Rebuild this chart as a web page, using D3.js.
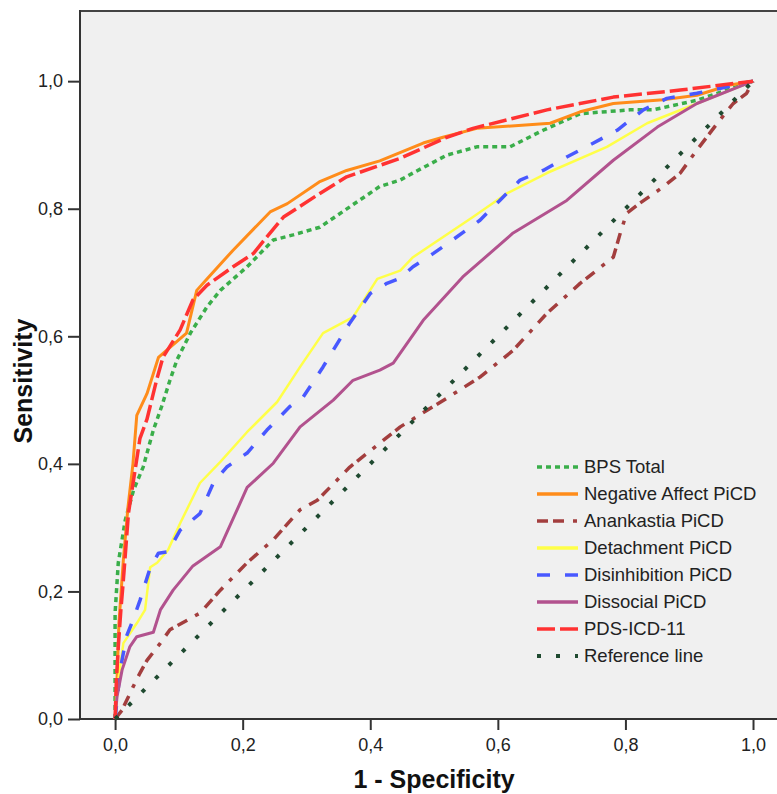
<html>
    <head>
        <meta charset="utf-8">
        <script src="https://d3js.org/d3.v7.min.js"></script>
        <style>
            body { margin: 0; background: white; }
            .axis text { font-family: Arial, "Liberation Sans", sans-serif; font-size: 18px; fill: #222; }
            .axis line { stroke: #333; stroke-width: 2; }
            .axis path { display: none; }
            .title { font-family: Arial, "Liberation Sans", sans-serif; font-size: 25px; font-weight: bold; fill: #111; }
            .legend text { font-family: Arial, "Liberation Sans", sans-serif; font-size: 18.5px; fill: #222; }
        </style>
    </head>
    <body>
        <div id="chart"></div>
    </body>

    <script>
        // ROC curves, [1 - specificity, sensitivity]
        var bpsTotal = [[0,0],[0,0.166],[0.005,0.245],[0.016,0.312],[0.029,0.359],[0.044,0.395],[0.06,0.453],[0.073,0.49],[0.086,0.531],[0.097,0.563],[0.118,0.605],[0.144,0.646],[0.165,0.672],[0.207,0.709],[0.248,0.751],[0.279,0.759],[0.321,0.771],[0.368,0.803],[0.415,0.835],[0.447,0.845],[0.467,0.856],[0.52,0.884],[0.567,0.897],[0.619,0.897],[0.671,0.923],[0.729,0.949],[0.807,0.955],[0.843,0.955],[0.912,0.97],[1,1]];
        var negativeAffect = [[0,0],[0.003,0.06],[0.006,0.15],[0.013,0.25],[0.02,0.33],[0.028,0.4],[0.034,0.476],[0.05,0.51],[0.068,0.567],[0.112,0.605],[0.128,0.672],[0.144,0.69],[0.185,0.735],[0.243,0.795],[0.27,0.808],[0.32,0.842],[0.363,0.86],[0.415,0.875],[0.483,0.903],[0.514,0.912],[0.567,0.926],[0.682,0.934],[0.729,0.952],[0.781,0.965],[0.859,0.971],[0.912,0.978],[0.964,0.994],[1,1]];
        var anankastia = [[0,0],[0.011,0.014],[0.028,0.05],[0.039,0.072],[0.05,0.092],[0.071,0.119],[0.086,0.14],[0.133,0.166],[0.165,0.202],[0.207,0.245],[0.248,0.281],[0.29,0.328],[0.317,0.343],[0.368,0.395],[0.447,0.458],[0.52,0.503],[0.572,0.536],[0.624,0.578],[0.677,0.636],[0.729,0.683],[0.781,0.724],[0.792,0.762],[0.802,0.793],[0.823,0.809],[0.859,0.834],[0.886,0.856],[0.912,0.892],[0.948,0.939],[0.969,0.965],[0.99,0.981],[1,1]];
        var detachment = [[0,0],[0.005,0.061],[0.013,0.119],[0.034,0.15],[0.047,0.171],[0.055,0.238],[0.066,0.245],[0.083,0.265],[0.102,0.307],[0.133,0.37],[0.165,0.403],[0.207,0.45],[0.254,0.497],[0.29,0.552],[0.326,0.605],[0.373,0.63],[0.411,0.69],[0.447,0.703],[0.467,0.724],[0.561,0.787],[0.614,0.824],[0.677,0.856],[0.771,0.897],[0.834,0.934],[0.912,0.965],[1,1]];
        var disinhibition = [[0,0],[0.008,0.077],[0.018,0.13],[0.028,0.155],[0.039,0.186],[0.055,0.237],[0.068,0.26],[0.083,0.262],[0.102,0.296],[0.133,0.322],[0.154,0.37],[0.175,0.395],[0.207,0.417],[0.238,0.453],[0.274,0.49],[0.295,0.505],[0.326,0.552],[0.368,0.621],[0.4,0.667],[0.426,0.683],[0.447,0.691],[0.467,0.709],[0.499,0.73],[0.536,0.756],[0.572,0.782],[0.603,0.813],[0.635,0.845],[0.671,0.86],[0.708,0.881],[0.75,0.903],[0.787,0.923],[0.828,0.955],[0.865,0.973],[0.912,0.981],[1,1]];
        var dissocial = [[0,0],[0.003,0.035],[0.011,0.077],[0.023,0.113],[0.034,0.129],[0.06,0.136],[0.071,0.171],[0.091,0.202],[0.122,0.24],[0.165,0.27],[0.185,0.314],[0.207,0.363],[0.248,0.401],[0.29,0.458],[0.342,0.5],[0.373,0.531],[0.415,0.547],[0.436,0.558],[0.483,0.625],[0.545,0.693],[0.624,0.762],[0.708,0.813],[0.781,0.876],[0.85,0.928],[0.912,0.965],[1,1]];
        var pdsIcd11 = [[0,0],[0.002,0.06],[0.005,0.113],[0.009,0.17],[0.013,0.218],[0.021,0.323],[0.029,0.375],[0.039,0.44],[0.05,0.47],[0.065,0.531],[0.075,0.567],[0.102,0.61],[0.122,0.657],[0.144,0.68],[0.185,0.709],[0.217,0.73],[0.238,0.756],[0.264,0.787],[0.321,0.824],[0.363,0.85],[0.415,0.868],[0.447,0.879],[0.52,0.912],[0.561,0.926],[0.677,0.955],[0.781,0.975],[0.886,0.986],[1,1]];
        var referenceLine = [[0,0],[1,1]];

        var seriesNames = ["BPS Total","Negative Affect PiCD","Anankastia PiCD","Detachment PiCD","Disinhibition PiCD","Dissocial PiCD","PDS-ICD-11","Reference line"];
        var seriesData = [bpsTotal, negativeAffect, anankastia, detachment, disinhibition, dissocial, pdsIcd11, referenceLine];
        var tickValues = [0, 0.2, 0.4, 0.6, 0.8, 1.0];

        // line styles, same order as seriesNames
        var colors = ["#3aae4a","#ff8c1a","#a33e3e","#ffff48","#4858ff","#b2528e","#ff3232","#1f4a30"];
        var dashes = ["5,4", null, "11,5,11,9,4,9", null, "13,15", null, "18,5", "4,15"];
        var widths = [3.5, 3, 3.5, 2.5, 3.5, 3, 3.5, 4];

        var width = 777, height = 794;

        var svg = d3.select("#chart")
            .append("svg")
            .attr("width", width)
            .attr("height", height);

        var x = d3.scaleLinear()
            .domain([-0.055, 1.0376])
            .range([80, 777]);

        var y = d3.scaleLinear()
            .domain([0, 1.11])
            .range([719, 11]);

        // plot background + frame
        svg.append("rect")
            .attr("x", 80)
            .attr("y", 11)
            .attr("width", 697)
            .attr("height", 708)
            .style("fill", "#f0f0f0");

        svg.append("line")
            .attr("x1", 79).attr("x2", 777)
            .attr("y1", 11).attr("y2", 11)
            .style("stroke", "#444").style("stroke-width", 2);
        svg.append("line")
            .attr("x1", 80).attr("x2", 80)
            .attr("y1", 10).attr("y2", 720)
            .style("stroke", "#333").style("stroke-width", 2);
        svg.append("line")
            .attr("x1", 79).attr("x2", 777)
            .attr("y1", 719).attr("y2", 719)
            .style("stroke", "#333").style("stroke-width", 2);

        var fmt = function(d) { return d.toFixed(1).replace(".", ","); };

        svg.append("g")
            .attr("class", "axis")
            .attr("transform", "translate(80,0)")
            .call(d3.axisLeft(y).tickValues(tickValues).tickFormat(fmt).tickSize(12).tickPadding(5));

        svg.append("g")
            .attr("class", "axis")
            .attr("transform", "translate(0,719)")
            .call(d3.axisBottom(x).tickValues(tickValues).tickFormat(fmt).tickSize(11).tickPadding(8));

        // axis titles
        svg.append("text")
            .attr("class", "title")
            .attr("x", x(0.5))
            .attr("y", 788)
            .style("text-anchor", "middle")
            .text("1 - Specificity");

        svg.append("text")
            .attr("class", "title")
            .attr("transform", "translate(32,381) rotate(-90)")
            .style("text-anchor", "middle")
            .text("Sensitivity");

        // curves
        var line = d3.line()
            .x(function(d) { return x(d[0]); })
            .y(function(d) { return y(d[1]); });

        svg.append("g")
            .selectAll("path")
            .data(seriesData)
            .enter()
            .append("path")
                .attr("d", line)
                .style("fill", "none")
                .style("stroke", function(d, i) { return colors[i]; })
                .style("stroke-width", function(d, i) { return widths[i]; })
                .style("stroke-dasharray", function(d, i) { return dashes[i]; })
                .style("stroke-linejoin", "round");

        // legend
        var legend = svg.append("g")
            .attr("class", "legend")
            .selectAll("g")
            .data(seriesNames)
            .enter()
            .append("g")
                .attr("transform", function(d, i) { return "translate(537," + (467 + i * 27) + ")"; });

        legend.append("line")
            .attr("x1", 0).attr("x2", 41)
            .attr("y1", 0).attr("y2", 0)
            .style("stroke", function(d, i) { return colors[i]; })
            .style("stroke-width", function(d, i) { return Math.max(widths[i], 3.5); })
            .style("stroke-dasharray", function(d, i) { return dashes[i]; });

        legend.append("text")
            .attr("x", 47)
            .attr("y", 0)
            .attr("dy", "0.35em")
            .text(function(d) { return d; });
    </script>
</html>
